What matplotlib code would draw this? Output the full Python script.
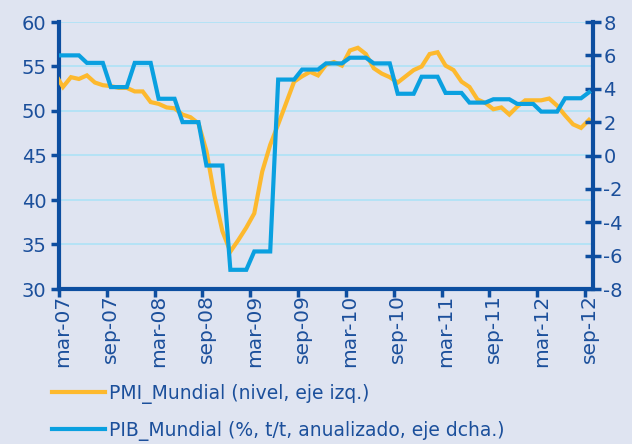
import matplotlib
matplotlib.use("Agg")
import matplotlib.pyplot as plt
from matplotlib.lines import Line2D
import numpy as np

# Monthly categories (feb-07 is only partly visible at the left edge)
months = ["feb-07",
          "mar-07", "abr-07", "may-07", "jun-07", "jul-07", "ago-07", "sep-07", "oct-07", "nov-07", "dic-07",
          "ene-08", "feb-08", "mar-08", "abr-08", "may-08", "jun-08", "jul-08", "ago-08", "sep-08", "oct-08",
          "nov-08", "dic-08", "ene-09", "feb-09", "mar-09", "abr-09", "may-09", "jun-09", "jul-09", "ago-09",
          "sep-09", "oct-09", "nov-09", "dic-09", "ene-10", "feb-10", "mar-10", "abr-10", "may-10", "jun-10",
          "jul-10", "ago-10", "sep-10", "oct-10", "nov-10", "dic-10", "ene-11", "feb-11", "mar-11", "abr-11",
          "may-11", "jun-11", "jul-11", "ago-11", "sep-11", "oct-11", "nov-11", "dic-11", "ene-12", "feb-12",
          "mar-12", "abr-12", "may-12", "jun-12", "jul-12", "ago-12", "sep-12"]

pmi = [54.2,
       52.7, 53.8, 53.6, 54.0, 53.2, 52.9, 52.8, 52.6, 52.6, 52.2,
       52.2, 51.0, 50.8, 50.4, 50.3, 49.6, 49.3, 48.6, 45.5, 40.5,
       36.5, 34.2, 35.5, 36.9, 38.5, 43.2, 46.2, 48.5, 50.9, 53.3,
       53.9, 54.4, 54.0, 55.2, 55.5, 55.1, 56.8, 57.1, 56.4, 54.8,
       54.2, 53.8, 53.2, 53.9, 54.6, 55.0, 56.4, 56.6, 55.1, 54.6,
       53.3, 52.7, 51.3, 50.9, 50.2, 50.4, 49.6, 50.5, 51.2, 51.2,
       51.2, 51.4, 50.6, 49.5, 48.5, 48.1, 49.0]

pib = [6.0,
       6.0, 6.0, 6.0, 5.55, 5.55, 5.55, 4.1, 4.1, 4.1, 5.55,
       5.55, 5.55, 3.4, 3.4, 3.4, 2.0, 2.0, 2.0, -0.6, -0.6,
       -0.6, -6.85, -6.85, -6.85, -5.75, -5.75, -5.75, 4.55, 4.55, 4.55,
       5.15, 5.15, 5.15, 5.52, 5.52, 5.52, 5.86, 5.86, 5.86, 5.52,
       5.52, 5.52, 3.7, 3.7, 3.7, 4.72, 4.72, 4.72, 3.75, 3.75,
       3.75, 3.17, 3.17, 3.17, 3.37, 3.37, 3.37, 3.09, 3.09, 3.09,
       2.63, 2.63, 2.63, 3.43, 3.43, 3.43, 3.79]

left_ticks = [30, 35, 40, 45, 50, 55, 60]
right_ticks = [-8, -6, -4, -2, 0, 2, 4, 6, 8]
label_names = ["PMI_Mundial (nivel, eje izq.)",
               "PIB_Mundial (%, t/t, anualizado, eje dcha.)"]

BG = "#dfe4f1"
AXC = "#0d4ea0"
TXT = "#1b4f9b"
YEL = "#fdb92e"
BLU = "#0aa0e0"
GRID = "#b4e2f6"

plt.rcParams["font.family"] = ["DejaVu Sans"]
plt.rcParams["axes.unicode_minus"] = False

fig = plt.figure(figsize=(6.32, 4.44), dpi=100, facecolor=BG)
W, H = 632, 444
ax = fig.add_axes([59 / W, 1 - 289 / H, (593 - 59) / W, (289 - 22) / H])
ax.set_facecolor(BG)

x = np.arange(len(months)) - 1  # mar-07 -> 0

ax.set_ylim(30, 60)
ax.set_yticks(left_ticks)
ax.set_xlim(-0.5, len(months) - 1.5)
for v in left_ticks[1:]:
    ax.axhline(v, color=GRID, lw=1.4, zorder=0)

ax.plot(x, pmi, color=YEL, lw=3, solid_joinstyle="miter", zorder=3)

ax2 = ax.twinx()
ax2.set_ylim(-8, 8)
ax2.set_yticks(right_ticks)
ax2.plot(x, pib, color=BLU, lw=3, solid_joinstyle="miter", zorder=4)
ax2.set_xlim(-0.5, len(months) - 1.5)

# x ticks at boundaries, labels at category centres
lab_idx = [i for i, m in enumerate(months) if m[:3] in ("mar", "sep")]
centres = [x[i] for i in lab_idx]
ax.set_xticks([c - 0.5 for c in centres])
ax.set_xticklabels([])
ax.set_xticks(centres, minor=True)
ax.set_xticklabels([months[i] for i in lab_idx], minor=True, rotation=90,
                   fontsize=14.5, color=TXT)
ax.tick_params(axis="x", which="minor", length=0, pad=4)
ax.tick_params(axis="x", which="major", direction="out", length=6, width=2.5, color=AXC)
ax.tick_params(axis="y", direction="out", length=6, width=2.5, color=AXC,
               labelsize=14, labelcolor=TXT, pad=3)
ax2.tick_params(axis="y", direction="inout", length=11, width=2.5, color=AXC,
                labelsize=14, labelcolor=TXT, pad=2)

for a in (ax, ax2):
    a.spines["top"].set_visible(False)
    for s in ("left", "right", "bottom"):
        a.spines[s].set_color(AXC)
        a.spines[s].set_linewidth(3)
ax2.spines["left"].set_visible(False)
ax2.spines["bottom"].set_visible(False)
ax.spines["right"].set_visible(False)

handles = [Line2D([], [], color=YEL, lw=3), Line2D([], [], color=BLU, lw=3)]
leg = fig.legend(handles, label_names, loc="upper left",
                 bbox_to_anchor=(44 / W, 1 - 376 / H), frameon=False,
                 fontsize=13.5, handlelength=2.85, handletextpad=0.2,
                 labelspacing=0.92, borderaxespad=0)
for t in leg.get_texts():
    t.set_color(TXT)

fig.savefig("out.png", dpi=100, facecolor=BG)
